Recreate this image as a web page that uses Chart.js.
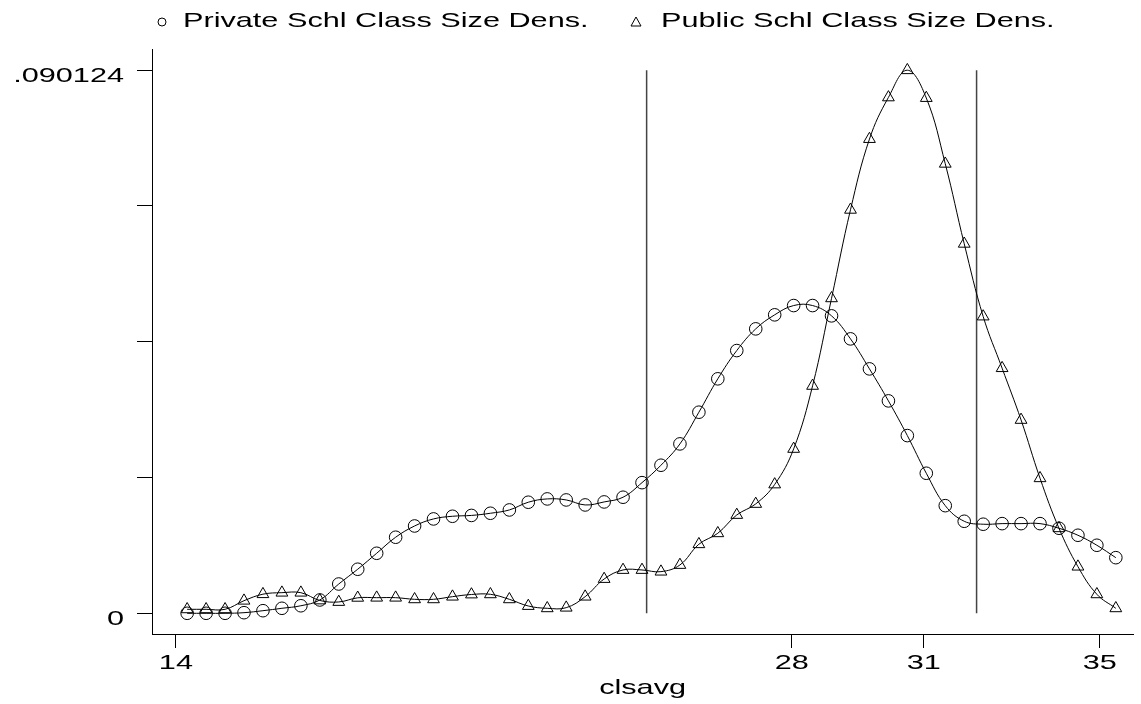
<!DOCTYPE html>
<html>
<head>
<meta charset="utf-8">
<title>Class size density</title>
<script src="https://cdn.jsdelivr.net/npm/chart.js@4.4.0/dist/chart.umd.min.js"></script>
<style>
    body { margin: 0; background: #fff; }
    #wrap { width: 1141px; height: 704px; }
</style>
</head>
<body>
<div id="wrap"><canvas id="densChart" width="1141" height="704"></canvas></div>
<script>
// grid of clsavg values where the densities were evaluated
const clsavgPoints = [
    14.256, 14.687, 15.118, 15.548, 15.979, 16.410, 16.841, 17.272, 17.702, 18.133,
    18.564, 18.995, 19.426, 19.856, 20.287, 20.718, 21.149, 21.580, 22.010, 22.441,
    22.872, 23.303, 23.734, 24.164, 24.595, 25.026, 25.457, 25.888, 26.318, 26.749,
    27.180, 27.611, 28.042, 28.472, 28.903, 29.334, 29.765, 30.196, 30.626, 31.057,
    31.488, 31.919, 32.350, 32.780, 33.211, 33.642, 34.073, 34.504, 34.934, 35.365
];

// private school class size density
const privateDens = [
    0.00000, 0.00000, 0.00000, 0.00010, 0.00043, 0.00083, 0.00125, 0.00221, 0.00486, 0.00731,
    0.00996, 0.01262, 0.01449, 0.01566, 0.01610, 0.01624, 0.01660, 0.01715, 0.01843, 0.01898,
    0.01881, 0.01798, 0.01848, 0.01926, 0.02168, 0.02457, 0.02811, 0.03337, 0.03891, 0.04360,
    0.04720, 0.04953, 0.05107, 0.05107, 0.04936, 0.04554, 0.04056, 0.03525, 0.02949, 0.02324,
    0.01786, 0.01527, 0.01478, 0.01488, 0.01488, 0.01488, 0.01411, 0.01295, 0.01129, 0.00923
];

// public school class size density
const publicDens = [
    0.00066, 0.00066, 0.00066, 0.00209, 0.00317, 0.00342, 0.00342, 0.00213, 0.00188, 0.00257,
    0.00259, 0.00259, 0.00232, 0.00232, 0.00276, 0.00312, 0.00315, 0.00232, 0.00121, 0.00083,
    0.00093, 0.00276, 0.00569, 0.00719, 0.00719, 0.00691, 0.00802, 0.01146, 0.01328, 0.01632,
    0.01815, 0.02138, 0.02728, 0.03774, 0.05227, 0.06696, 0.07870, 0.08561, 0.090124, 0.08551,
    0.07460, 0.06132, 0.04925, 0.04068, 0.03209, 0.02241, 0.01411, 0.00774, 0.00315, 0.00083
];

// vertical reference lines (x position) and their height
const refLines = [24.7, 32.2];
const refTop = 0.090124;

// axis ticks
const xTickValues = [14, 28, 31, 35];
const xTickLabels = ['14', '28', '31', '35'];
const yTickValues = [0, 0.022531, 0.045062, 0.067593, 0.090124];
const yTickLabels = ['0', '', '', '', '.090124'];

const legendLabels = ['Private Schl Class Size Dens.', 'Public Schl Class Size Dens.'];
const xTitle = 'clsavg';

// the reference font is drawn wide, so the text gets stretched sideways
const STRETCH = 1.46;
const FONT = '21px "Liberation Sans", Arial, sans-serif';

/**
 * join two arrays into {x, y} points
 */
function toXY(xs, ys) {
    return xs.map((x, i) => ({ x: x, y: ys[i] }));
}

/**
 * write a text stretched horizontally
 */
function wideText(ctx, text, x, y, align) {
    const w = ctx.measureText(text).width * STRETCH;
    let left = x;
    if (align === 'center') left = x - w / 2;
    if (align === 'right') left = x - w;
    ctx.save();
    ctx.translate(left, y);
    ctx.scale(STRETCH, 1);
    ctx.fillText(text, 0, 0);
    ctx.restore();
}

// draws tick labels, axis title and legend in the wide font
const wideTextPlugin = {
    id: 'wideText',
    afterDraw(chart) {
        const ctx = chart.ctx;
        const xs = chart.scales.x;
        const ys = chart.scales.y;
        const area = chart.chartArea;
        ctx.save();
        ctx.font = FONT;
        ctx.fillStyle = '#000';
        ctx.textAlign = 'left';
        ctx.textBaseline = 'alphabetic';

        // y labels
        yTickValues.forEach((v, i) => {
            if (yTickLabels[i] === '') return;
            wideText(ctx, yTickLabels[i], 124, ys.getPixelForValue(v) + 11.5, 'right');
        });

        // x labels
        xTickValues.forEach((v, i) => {
            wideText(ctx, xTickLabels[i], xs.getPixelForValue(v), area.bottom + 34.5, 'center');
        });

        // x title
        wideText(ctx, xTitle, (area.left + area.right) / 2, 694, 'center');

        // legend
        ctx.strokeStyle = '#000';
        ctx.lineWidth = 1;
        ctx.beginPath();
        ctx.arc(162, 22, 4, 0, Math.PI * 2);
        ctx.stroke();
        wideText(ctx, legendLabels[0], 183, 27, 'left');

        ctx.beginPath();
        ctx.moveTo(636, 17);
        ctx.lineTo(641, 26);
        ctx.lineTo(631, 26);
        ctx.closePath();
        ctx.stroke();
        wideText(ctx, legendLabels[1], 661, 27, 'left');

        ctx.restore();
    }
};

const curveStyle = {
    showLine: true,
    tension: 0.4,
    borderColor: '#000',
    borderWidth: 1,
    pointBorderColor: '#000',
    pointBorderWidth: 1,
    pointBackgroundColor: 'rgba(0,0,0,0)',
    clip: false
};

const data = {
    datasets: [
        Object.assign({
            label: legendLabels[0],
            data: toXY(clsavgPoints, privateDens),
            pointStyle: 'circle',
            pointRadius: 6.3
        }, curveStyle),
        Object.assign({
            label: legendLabels[1],
            data: toXY(clsavgPoints, publicDens),
            pointStyle: 'triangle',
            pointRadius: 6.8
        }, curveStyle),
        {
            label: 'ref1',
            data: [{ x: refLines[0], y: 0 }, { x: refLines[0], y: refTop }],
            showLine: true,
            borderColor: '#444',
            borderWidth: 1.5,
            pointRadius: 0
        },
        {
            label: 'ref2',
            data: [{ x: refLines[1], y: 0 }, { x: refLines[1], y: refTop }],
            showLine: true,
            borderColor: '#444',
            borderWidth: 1.5,
            pointRadius: 0
        }
    ]
};

const config = {
    type: 'scatter',
    data: data,
    options: {
        responsive: false,
        animation: false,
        devicePixelRatio: 1,
        layout: { padding: { left: 0, top: 49, right: 3, bottom: 0 } },
        plugins: {
            legend: { display: false },
            tooltip: { enabled: false }
        },
        scales: {
            x: {
                type: 'linear',
                min: 13.457,
                max: 35.76,
                afterBuildTicks: (s) => { s.ticks = xTickValues.map(v => ({ value: v })); },
                afterFit: (s) => { s.height = 70; },
                ticks: { display: false },
                grid: { drawOnChartArea: false, color: '#000', lineWidth: 1, tickLength: 14 },
                border: { display: true, color: '#000', width: 1 }
            },
            y: {
                type: 'linear',
                min: -0.003437,
                max: 0.093644,
                afterBuildTicks: (s) => { s.ticks = yTickValues.map(v => ({ value: v })); },
                afterFit: (s) => { s.width = 152; },
                ticks: { display: false },
                grid: { drawOnChartArea: false, color: '#000', lineWidth: 1, tickLength: 15 },
                border: { display: true, color: '#000', width: 1 }
            }
        }
    },
    plugins: [wideTextPlugin]
};

const ctx = document.getElementById('densChart');
new Chart(ctx, config);
</script>
</body>
</html>
